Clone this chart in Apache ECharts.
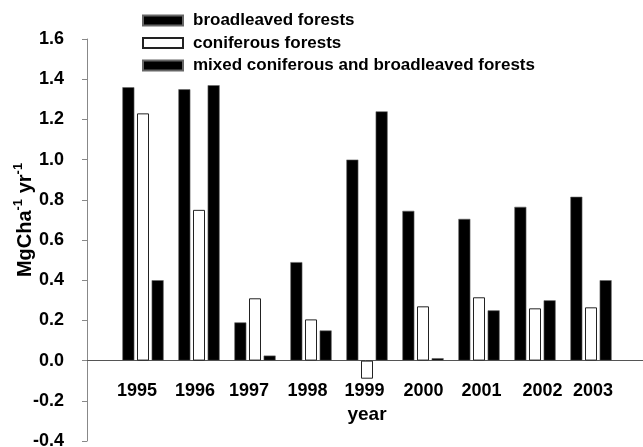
<!DOCTYPE html>
<html>
<head>
<meta charset="utf-8">
<title>Annual carbon increment by forest type</title>
<script src="https://cdn.jsdelivr.net/npm/echarts@6/dist/echarts.min.js"></script>
<style>
  html, body { margin: 0; padding: 0; background: #fff; }
  #chart { width: 643px; height: 447px; }
</style>
</head>
<body>
<div id="chart"></div>
<script>
// Survey years
const years = ['1995', '1996', '1997', '1998', '1999', '2000', '2001', '2002', '2003'];

// Annual values (MgC ha-1 yr-1) per forest type
const broadleaved = [1.36, 1.35, 0.19, 0.49, 1.00, 0.745, 0.705, 0.765, 0.815];
const coniferous  = [1.23, 0.75, 0.31, 0.205, -0.09, 0.27, 0.315, 0.26, 0.265];
const mixed       = [0.40, 1.37, 0.025, 0.15, 1.24, 0.012, 0.25, 0.30, 0.40];

// Value axis ticks
const yMin = -0.4, yMax = 1.6, yStep = 0.2;

// Series names shown in the legend
const seriesNames = ['broadleaved forests', 'coniferous forests', 'mixed coniferous and broadleaved forests'];

// Small horizontal nudges (px) for the year labels, one per axis slot
const labelNudge = [0, -6, -4, -6, -3.5, -2.5, 0.5, 2.5, 7.5, 2, 0];

const FONT = "'Liberation Sans', Arial, Helvetica, sans-serif";

// Plot box
const GRID = { left: 87, right: -4, top: 39, bottom: 6 };
const PLOT_H = 447 - GRID.top - GRID.bottom;

// The year axis gets an empty slot on each side so the groups sit one band in from the axes
const slots = [''].concat(years, ['']);
const pad = arr => [null].concat(arr, [null]);

// Distance from the plot's bottom edge up to the zero line
const zeroLift = PLOT_H * (0 - yMin) / (yMax - yMin);

const labelRich = {};
labelNudge.forEach((d, i) => {
  labelRich['n' + i] = {
    fontFamily: FONT, fontSize: 18, fontWeight: 'bold', color: '#000',
    padding: d < 0 ? [0, -2 * d, 0, 0] : [0, 0, 0, 2 * d]
  };
});

const chart = echarts.init(document.getElementById('chart'), null, { renderer: 'canvas' });

const barBase = { type: 'bar', barWidth: 12, barGap: '22%', animation: false, xAxisIndex: 0 };

chart.setOption({
  backgroundColor: '#fff',
  animation: false,
  textStyle: { fontFamily: FONT },
  grid: Object.assign({ containLabel: false, outerBoundsMode: 'none' }, GRID),
  legend: {
    orient: 'vertical',
    left: 137,
    top: 7,
    itemWidth: 40,
    itemHeight: 10,
    itemGap: 5.5,
    icon: 'rect',
    textStyle: { fontFamily: FONT, fontSize: 17, fontWeight: 'bold', color: '#000', padding: [0, 0, 0, 5] },
    data: seriesNames
  },
  xAxis: [
    {
      // zero line that the bars stand on
      type: 'category',
      data: slots,
      boundaryGap: false,
      axisLine: { onZero: true, lineStyle: { color: '#555', width: 1 } },
      axisTick: { show: false },
      axisLabel: { show: false },
      splitLine: { show: false }
    },
    {
      // year labels and axis title, lifted up to sit under the zero line
      type: 'category',
      data: slots,
      boundaryGap: false,
      position: 'bottom',
      offset: -zeroLift,
      axisLine: { show: false, onZero: false },
      axisTick: { show: false },
      splitLine: { show: false },
      axisLabel: {
        interval: 0,
        margin: 21,
        fontFamily: FONT, fontSize: 18, fontWeight: 'bold', color: '#000',
        formatter: (v, i) => v ? '{n' + i + '|' + v + '}' : '',
        rich: labelRich
      },
      name: 'year',
      nameLocation: 'middle',
      nameGap: 45,
      nameMoveOverlap: false,
      nameTextStyle: { fontFamily: FONT, fontSize: 19, fontWeight: 'bold', color: '#000' }
    }
  ],
  yAxis: {
    type: 'value',
    min: yMin,
    max: yMax,
    interval: yStep,
    axisLine: { show: true, lineStyle: { color: '#888', width: 1 } },
    axisTick: { show: true, length: 5, lineStyle: { color: '#888' } },
    splitLine: { show: false },
    axisLabel: {
      margin: 23,
      fontFamily: FONT, fontSize: 18, fontWeight: 'bold', color: '#000',
      formatter: v => v.toFixed(1)
    },
    name: '{a|MgCha}{s|-1}{a| yr}{s|-1}',
    nameLocation: 'middle',
    nameRotate: 90,
    nameGap: 52,
    nameMoveOverlap: false,
    nameTextStyle: {
      padding: [0, 0, 0, 40],
      rich: {
        a: { fontFamily: FONT, fontSize: 20, fontWeight: 'bold', color: '#000', lineHeight: 23, verticalAlign: 'bottom' },
        s: { fontFamily: FONT, fontSize: 13, fontWeight: 'bold', color: '#000', lineHeight: 23, verticalAlign: 'top' }
      }
    }
  },
  series: [
    Object.assign({}, barBase, {
      name: seriesNames[0],
      data: pad(broadleaved),
      itemStyle: { color: '#000', borderColor: '#666', borderWidth: 0.6 }
    }),
    Object.assign({}, barBase, {
      name: seriesNames[1],
      data: pad(coniferous),
      itemStyle: { color: '#fff', borderColor: '#222', borderWidth: 1 }
    }),
    Object.assign({}, barBase, {
      name: seriesNames[2],
      data: pad(mixed),
      itemStyle: { color: '#000', borderColor: '#666', borderWidth: 0.6 }
    })
  ]
});
</script>
</body>
</html>
